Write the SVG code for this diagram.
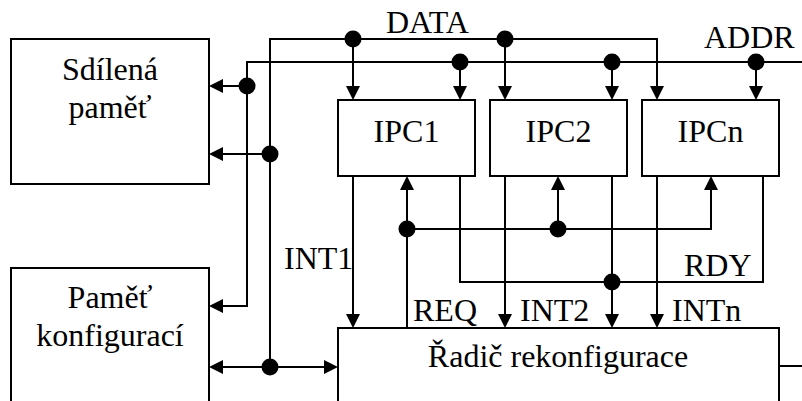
<svg xmlns="http://www.w3.org/2000/svg" width="802" height="401" viewBox="0 0 802 401">
<style>
  .box { fill: #fff; stroke: #000; stroke-width: 2; }
  .lbl { font-family: "Liberation Serif", "Times New Roman", serif; font-size: 32px; fill: #000; }
  .mid { text-anchor: middle; }
  .w { fill: none; stroke: #000; stroke-width: 2; }
  .arr { marker-end: url(#ah); }
  .dot { fill: #000; }
</style>
<defs>
  <marker id="ah" viewBox="0 0 14 14" refX="12" refY="7" markerWidth="14" markerHeight="14" markerUnits="userSpaceOnUse" orient="auto-start-reverse">
    <path d="M0,0 L14,7 L0,14 z" fill="#000"/>
  </marker>
</defs>
<rect width="802" height="401" fill="#fff"/>

<g id="sdilena-pamet">
  <rect class="box" x="11" y="39" width="198" height="145"/>
  <text class="lbl mid" x="110" y="80">Sdílená</text>
  <text class="lbl mid" x="110" y="118">paměť</text>
</g>
<g id="pamet-konfiguraci">
  <rect class="box" x="11" y="268" width="198" height="160"/>
  <text class="lbl mid" x="110" y="308">Paměť</text>
  <text class="lbl mid" x="110" y="346">konfigurací</text>
</g>
<g id="ipc1">
  <rect class="box" x="338" y="100" width="137" height="76"/>
  <text class="lbl mid" x="406.5" y="142">IPC1</text>
</g>
<g id="ipc2">
  <rect class="box" x="490" y="100" width="137" height="76"/>
  <text class="lbl mid" x="558.5" y="142">IPC2</text>
</g>
<g id="ipcn">
  <rect class="box" x="642" y="100" width="137" height="76"/>
  <text class="lbl mid" x="710.5" y="142">IPCn</text>
</g>
<g id="radic">
  <rect class="box" x="338" y="328" width="441" height="100"/>
  <text class="lbl mid" x="558" y="367">Řadič rekonfigurace</text>
</g>

<g id="connectors">
  <!-- DATA bus -->
  <polyline class="w arr" points="270,367 270,39 657,39 657,98"/>
  <line class="w arr" x1="353" y1="39" x2="353" y2="98"/>
  <line class="w arr" x1="505" y1="39" x2="505" y2="98"/>
  <line class="w arr" x1="270" y1="154" x2="211" y2="154"/>
  <line class="w arr" x1="211" y1="367" x2="336" y2="367" style="marker-start:url(#ah)"/>
  <!-- ADDR bus -->
  <polyline class="w arr" points="802,62 247,62 247,306 211,306"/>
  <line class="w arr" x1="247" y1="86" x2="211" y2="86"/>
  <line class="w arr" x1="460" y1="62" x2="460" y2="98"/>
  <line class="w arr" x1="612" y1="62" x2="612" y2="98"/>
  <line class="w arr" x1="756" y1="62" x2="756" y2="98"/>
  <!-- INT lines -->
  <line class="w arr" x1="353" y1="176" x2="353" y2="326"/>
  <line class="w arr" x1="505" y1="176" x2="505" y2="326"/>
  <line class="w arr" x1="657" y1="176" x2="657" y2="326"/>
  <!-- REQ -->
  <line class="w arr" x1="407" y1="328" x2="407" y2="178"/>
  <polyline class="w arr" points="407,229 711,229 711,178"/>
  <line class="w arr" x1="558" y1="229" x2="558" y2="178"/>
  <!-- RDY -->
  <polyline class="w" points="460,176 460,282 763,282 763,176"/>
  <line class="w arr" x1="612" y1="176" x2="612" y2="326"/>
  <!-- right output -->
  <line class="w" x1="779" y1="366" x2="802" y2="366"/>
  <!-- junction dots -->
  <circle class="dot" cx="353" cy="39" r="8.5"/>
  <circle class="dot" cx="505" cy="39" r="8.5"/>
  <circle class="dot" cx="270" cy="154" r="8.5"/>
  <circle class="dot" cx="270" cy="367" r="8.5"/>
  <circle class="dot" cx="247" cy="86" r="8.5"/>
  <circle class="dot" cx="460" cy="62" r="8.5"/>
  <circle class="dot" cx="612" cy="62" r="8.5"/>
  <circle class="dot" cx="756" cy="62" r="8.5"/>
  <circle class="dot" cx="407" cy="229" r="8.5"/>
  <circle class="dot" cx="558" cy="229" r="8.5"/>
  <circle class="dot" cx="612" cy="282" r="8.5"/>
  <!-- labels -->
  <text class="lbl" x="386" y="33">DATA</text>
  <text class="lbl" x="704" y="48">ADDR</text>
  <text class="lbl" x="284" y="269">INT1</text>
  <text class="lbl" x="413" y="321">REQ</text>
  <text class="lbl" x="520" y="321">INT2</text>
  <text class="lbl" x="672" y="321">INTn</text>
  <text class="lbl" x="684" y="276">RDY</text>
</g>
</svg>
